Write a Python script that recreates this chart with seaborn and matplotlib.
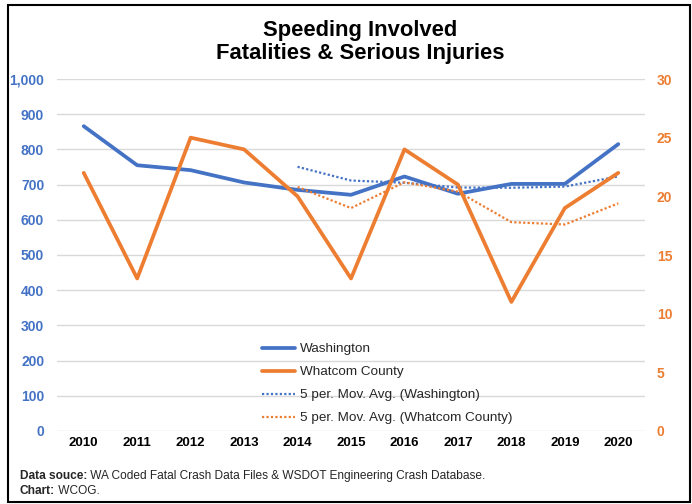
import matplotlib
matplotlib.use("Agg")
import matplotlib.pyplot as plt
from matplotlib.patches import Rectangle
from matplotlib.lines import Line2D
from matplotlib.ticker import FuncFormatter
import seaborn as sns
import pandas as pd

# ---- data ----
years = [2010, 2011, 2012, 2013, 2014, 2015, 2016, 2017, 2018, 2019, 2020]
washington = [866, 755, 741, 706, 685, 671, 723, 674, 702, 702, 815]
whatcom = [22, 13, 25, 24, 20, 13, 24, 21, 11, 19, 22]
left_ticks = [0, 100, 200, 300, 400, 500, 600, 700, 800, 900, 1000]
right_ticks = [0, 5, 10, 15, 20, 25, 30]
title = "Speeding Involved\nFatalities & Serious Injuries"
series_labels = ["Washington", "Whatcom County",
                 "5 per. Mov. Avg. (Washington)",
                 "5 per. Mov. Avg. (Whatcom County)"]

BLUE = "#4472C4"
ORANGE = "#ED7D31"

df = pd.DataFrame({"year": years, "Washington": washington, "Whatcom": whatcom})
df["WA_MA"] = df["Washington"].rolling(5).mean()
df["WC_MA"] = df["Whatcom"].rolling(5).mean()
ma = df.dropna()

sns.set_style("white")
plt.rcParams["font.family"] = ["Liberation Sans", "DejaVu Sans"]

fig = plt.figure(figsize=(6.92, 5.04), dpi=100)
ax = fig.add_axes([57/692, (504-431)/504, (645-57)/692, (431-79)/504])
ax2 = ax.twinx()

dot = (0, (1, 1))
sns.lineplot(data=df, x="year", y="Washington", ax=ax, color=BLUE, linewidth=2.7,
             legend=False)
sns.lineplot(data=ma, x="year", y="WA_MA", ax=ax, color=BLUE, linewidth=1.6,
             linestyle=dot, legend=False)
sns.lineplot(data=df, x="year", y="Whatcom", ax=ax2, color=ORANGE, linewidth=2.7,
             legend=False)
sns.lineplot(data=ma, x="year", y="WC_MA", ax=ax2, color=ORANGE, linewidth=1.6,
             linestyle=dot, legend=False)

ax.set_xlim(years[0] - 0.5, years[-1] + 0.5)
ax.set_ylim(0, 1000)
ax2.set_ylim(0, 30)
ax.set_yticks(left_ticks)
ax2.set_yticks(right_ticks)
ax.set_xticks(years)
ax.set_xticklabels([str(y) for y in years])
ax.yaxis.set_major_formatter(FuncFormatter(lambda v, p: f"{int(v):,}"))

for a in (ax, ax2):
    for s in a.spines.values():
        s.set_visible(False)
    a.set_xlabel("")
    a.set_ylabel("")
ax.grid(axis="y", color="#D9D9D9", linewidth=1.0)
ax.grid(axis="x", visible=False)
ax2.grid(False)
ax.set_axisbelow(True)

ax.tick_params(axis="y", length=0, pad=9.2, labelsize=10, labelcolor=BLUE)
ax.tick_params(axis="x", length=0, pad=4.5, labelsize=9.5, labelcolor="black")
ax2.tick_params(axis="y", length=0, pad=8.6, labelsize=10, labelcolor=ORANGE)
for lab in ax.get_yticklabels() + ax.get_xticklabels() + ax2.get_yticklabels():
    lab.set_fontweight("bold")

# title
fig.text(360/692, 1 - 42/504, title, ha="center", va="center", fontsize=15.8,
         fontweight="bold", color="black", linespacing=1.12)

# legend
handles = [
    Line2D([], [], color=BLUE, linewidth=2.7),
    Line2D([], [], color=ORANGE, linewidth=2.7),
    Line2D([], [], color=BLUE, linewidth=1.6, linestyle=dot),
    Line2D([], [], color=ORANGE, linewidth=1.6, linestyle=dot),
]
leg = fig.legend(handles, series_labels, loc="upper left",
                 bbox_to_anchor=(262/692, 1 - 343/504), frameon=False,
                 borderpad=0, borderaxespad=0, handlelength=2.45,
                 handletextpad=0.35, labelspacing=0.78, fontsize=9.7)
for t in leg.get_texts():
    t.set_color("#262626")

# footer
fs = 8.6
t1 = fig.text(20/692, 1 - 476/504, "Data souce:", fontsize=fs, fontweight="bold",
              va="center", ha="left")
ax.annotate(" WA Coded Fatal Crash Data Files & WSDOT Engineering Crash Database.",
            xy=(1, 0.5), xycoords=t1, va="center", ha="left", fontsize=fs,
            annotation_clip=False)
t2 = fig.text(20/692, 1 - 491/504, "Chart:", fontsize=fs, fontweight="bold",
              va="center", ha="left")
ax.annotate(" WCOG.", xy=(1, 0.5), xycoords=t2, va="center", ha="left",
            fontsize=fs, annotation_clip=False)

# outer frame
fig.patches.append(Rectangle((7.5/692, 2.5/504), (689.5-7.5)/692, (499.5-2.5)/504,
                             transform=fig.transFigure, fill=False,
                             edgecolor="black", linewidth=1.5, zorder=10))

fig.savefig("out.png", dpi=100)
